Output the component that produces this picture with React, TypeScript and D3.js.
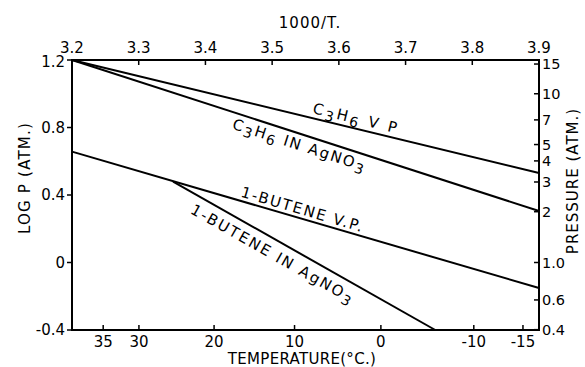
import React from 'react';
import * as d3 from 'd3';

// top axis: 1000/T
const invTTicks = [3.2, 3.3, 3.4, 3.5, 3.6, 3.7, 3.8, 3.9];
// left axis: log P (atm)
const logPTicks = [1.2, 0.8, 0.4, 0, -0.4];
const logPLabels = ['1.2', '0.8', '0.4', '0', '-0.4'];
// bottom axis: temperature (deg C)
const tempTicks = [35, 30, 20, 10, 0, -10, -15];
// right axis: pressure (atm)
const pressureTicks = [15, 10, 7, 5, 4, 3, 2, 1, 0.6, 0.4];
const pressureLabels = ['15', '10', '7', '5', '4', '3', '2', '1.0', '0.6', '0.4'];

// lines as (1000/T, log P)
const c3h6VP = [{ invT: 3.2, logP: 1.2 }, { invT: 3.9, logP: 0.53 }];
const c3h6Ag = [{ invT: 3.2, logP: 1.2 }, { invT: 3.9, logP: 0.305 }];
const buteneVP = [{ invT: 3.2, logP: 0.657 }, { invT: 3.9, logP: -0.151 }];
const buteneAg = [{ invT: 3.3515, logP: 0.479 }, { invT: 3.7445, logP: -0.4 }];

const W = 585;
const H = 367;
const margin = { top: 60, right: 46, bottom: 37, left: 72 };
const FONT = '"DejaVu Sans", sans-serif';

const x = d3.scaleLinear().domain([3.2, 3.9]).range([margin.left, W - margin.right]);
const y = d3.scaleLinear().domain([-0.4, 1.2]).range([H - margin.bottom, margin.top]);
const yP = d3.scaleLog().domain([Math.pow(10, -0.4), Math.pow(10, 1.2)]).range([H - margin.bottom, margin.top]);
const tempX = (t: number) => x(1000 / (t + 273));

const line = d3.line<{ invT: number; logP: number }>().x(d => x(d.invT)).y(d => y(d.logP));

type Part = { t: string; sub?: boolean };

// label running along a line, starting at a given 1000/T
const LineLabel = ({ series, at, offset, parts, spacing }:
  { series: { invT: number; logP: number }[]; at: number; offset: number; parts: Part[]; spacing: number }) => {
  const [a, b] = series;
  const k = (at - a.invT) / (b.invT - a.invT);
  const px = x(at);
  const py = y(a.logP + k * (b.logP - a.logP));
  const ang = (Math.atan2(y(b.logP) - y(a.logP), x(b.invT) - x(a.invT)) * 180) / Math.PI;
  let prevSub = false;
  return (
    <text transform={`translate(${px},${py}) rotate(${ang})`} y={offset}
      fontFamily={FONT} fontSize={15} letterSpacing={spacing} fill="#000">
      {parts.map((p, i) => {
        const dy = p.sub && !prevSub ? 4 : !p.sub && prevSub ? -4 : 0;
        prevSub = !!p.sub;
        return <tspan key={i} dy={dy} fontSize={p.sub ? 14 : 15}>{p.t}</tspan>;
      })}
    </text>
  );
};

export default function App() {
  const x0 = margin.left, x1 = W - margin.right, y0 = margin.top, y1 = H - margin.bottom;
  return (
    <svg width={W} height={H} style={{ position: 'absolute', left: 0, top: 0, background: '#fff' }}>
      {/* frame */}
      <rect x={x0} y={y0} width={x1 - x0} height={y1 - y0} fill="none" stroke="#000" strokeWidth={2} />

      {/* top axis */}
      {invTTicks.map(v => (
        <g key={v}>
          <line x1={x(v)} x2={x(v)} y1={y0} y2={y0 + 5} stroke="#000" strokeWidth={1.5} />
          <text x={x(v)} y={y0 - 7} textAnchor="middle" fontFamily={FONT} fontSize={15}>{v.toFixed(1)}</text>
        </g>
      ))}
      <text x={310} y={28} textAnchor="middle" fontFamily={FONT} fontSize={15} letterSpacing={1}>1000/T.</text>

      {/* left axis */}
      {logPTicks.map((v, i) => (
        <g key={v}>
          <line x1={x0 - 5} x2={x0} y1={y(v)} y2={y(v)} stroke="#000" strokeWidth={1.5} />
          <text x={x0 - 7} y={y(v) + (i === 0 ? 2 : 0)} dy="0.36em" textAnchor="end" fontFamily={FONT} fontSize={15}>{logPLabels[i]}</text>
        </g>
      ))}
      <text transform={`translate(30,178) rotate(-90)`} textAnchor="middle" fontFamily={FONT} fontSize={15} letterSpacing={1.2}>LOG P (ATM.)</text>

      {/* bottom axis */}
      {tempTicks.map(t => (
        <g key={t}>
          <line x1={tempX(t)} x2={tempX(t)} y1={y1} y2={y1 - 5} stroke="#000" strokeWidth={1.5} />
          <text x={tempX(t)} y={y1 + 17} textAnchor="middle" fontFamily={FONT} fontSize={15}>{t < 0 ? `-${-t}` : `${t}`}</text>
        </g>
      ))}
      <text x={302} y={364} textAnchor="middle" fontFamily={FONT} fontSize={15} letterSpacing={0.3}>TEMPERATURE(°C.)</text>

      {/* right axis */}
      {pressureTicks.map((p, i) => (
        <g key={p}>
          <line x1={x1 - 5} x2={x1} y1={yP(p)} y2={yP(p)} stroke="#000" strokeWidth={1.5} />
          <text x={x1 + 3} y={yP(p)} dy="0.36em" fontFamily={FONT} fontSize={14.5}>{pressureLabels[i]}</text>
        </g>
      ))}
      <text transform={`translate(578,181) rotate(-90)`} textAnchor="middle" fontFamily={FONT} fontSize={15} letterSpacing={1}>PRESSURE (ATM.)</text>

      {/* lines */}
      {[c3h6VP, c3h6Ag, buteneVP, buteneAg].map((s, i) => (
        <path key={i} d={line(s) || ''} fill="none" stroke="#000" strokeWidth={2} />
      ))}

      {/* line labels */}
      <LineLabel series={c3h6VP} at={3.558} offset={-5} spacing={2.5}
        parts={[{ t: 'C' }, { t: '3', sub: true }, { t: 'H' }, { t: '6', sub: true }, { t: ' V P' }]} />
      <LineLabel series={c3h6Ag} at={3.4466} offset={16} spacing={1.8}
        parts={[{ t: 'C' }, { t: '3', sub: true }, { t: 'H' }, { t: '6', sub: true }, { t: ' IN AgNO' }, { t: '3', sub: true }]} />
      <LineLabel series={buteneVP} at={3.45} offset={-4} spacing={1.8}
        parts={[{ t: '1-BUTENE V.P.' }]} />
      <LineLabel series={buteneAg} at={3.39} offset={19} spacing={2}
        parts={[{ t: '1-BUTENE IN AgNO' }, { t: '3', sub: true }]} />
    </svg>
  );
}
